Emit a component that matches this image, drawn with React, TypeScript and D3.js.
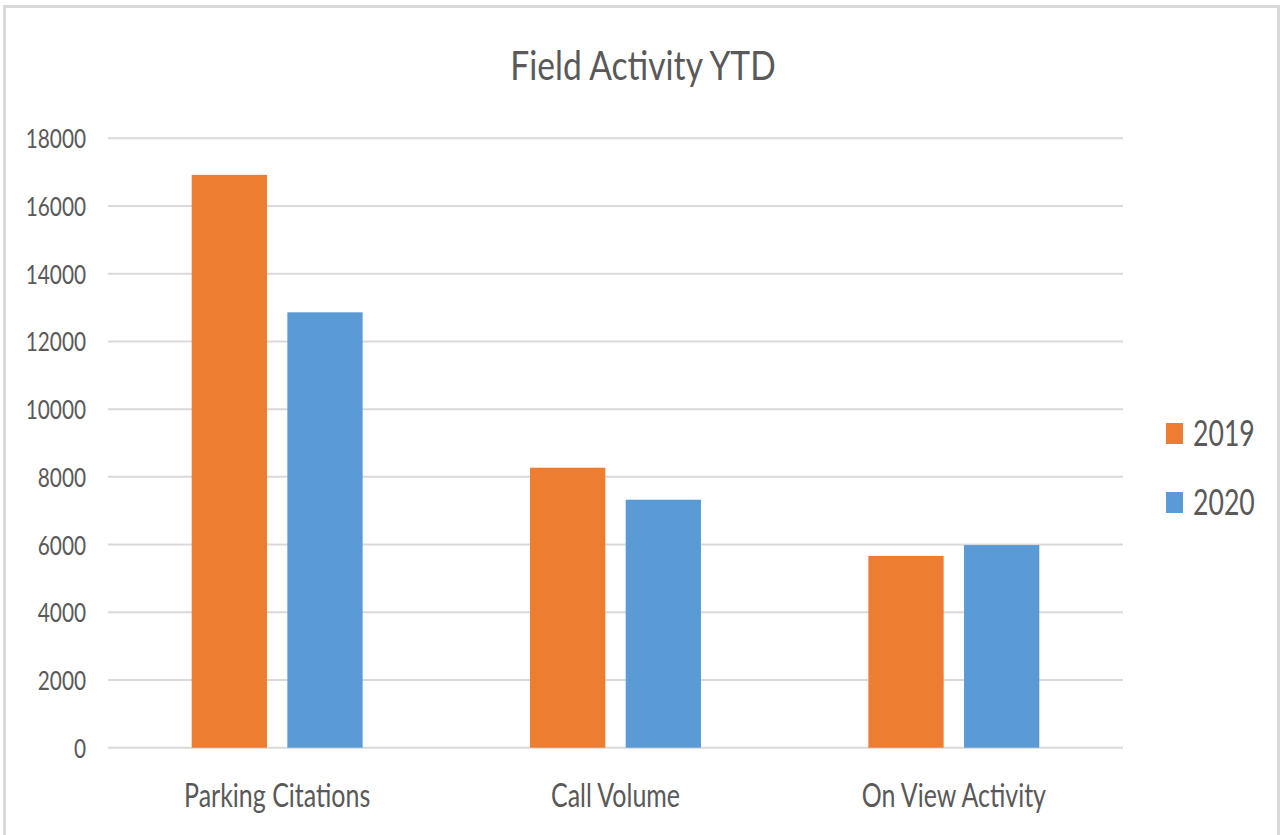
import React from 'react';
import * as d3 from 'd3';

const categories = ['Parking Citations', 'Call Volume', 'On View Activity'];
const seriesNames = ['2019', '2020'];
const values2019 = [16920, 8270, 5665];
const values2020 = [12860, 7325, 5985];
const yTicks = [0, 2000, 4000, 6000, 8000, 10000, 12000, 14000, 16000, 18000];

const colors = ['#ED7D31', '#5B9BD5'];
const textColor = '#595959';
const gridColor = '#d9d9d9';
const font = 'Lato, "Open Sans", sans-serif';
const squeeze = 0.8; // narrow the glyphs a bit, the original font is condensed

const App = () => {
  const width = 1280, height = 835;
  const plot = {left: 108, right: 1123, top: 138.3, bottom: 747.7};

  const x0 = d3.scaleBand()
    .domain(categories)
    .range([plot.left, plot.right])
    .padding(0);
  const x1 = d3.scaleBand()
    .domain(seriesNames)
    .range([0, x0.bandwidth()])
    .paddingInner(0.213)
    .paddingOuter(0.875);
  const y = d3.scaleLinear()
    .domain([0, 18000])
    .range([plot.bottom, plot.top]);

  const series = [values2019, values2020];

  const label = (x, yy, txt, size, anchor, sx = squeeze) => (
    <text
      key={txt + x + yy}
      transform={`translate(${x},${yy}) scale(${sx},1)`}
      fontSize={size}
      fill={textColor}
      fontFamily={font}
      textAnchor={anchor}
    >{txt}</text>
  );

  return (
    <div style={{position: 'absolute', left: 0, top: 0}}>
      <svg width={width} height={height} style={{display: 'block', background: '#fff'}}>
        <rect x={4.5} y={6.5} width={1274} height={840} fill="white" stroke={gridColor} strokeWidth={3} />

        {label(643, 80, 'Field Activity YTD', 40, 'middle', 0.84)}

        {yTicks.map(t => (
          <g key={t}>
            <line x1={plot.left} x2={plot.right} y1={y(t)} y2={y(t)} stroke={gridColor} strokeWidth={2} />
            {label(86, y(t) + 10, String(t), 26, 'end')}
          </g>
        ))}

        {categories.map((c, i) => (
          <g key={c} transform={`translate(${x0(c)},0)`}>
            {seriesNames.map((s, j) => (
              <rect
                key={s}
                x={x1(s)}
                y={y(series[j][i])}
                width={x1.bandwidth()}
                height={y(0) - y(series[j][i])}
                fill={colors[j]}
              />
            ))}
          </g>
        ))}

        {categories.map(c => label(x0(c) + x0.bandwidth() / 2, 806.7, c, 32, 'middle', 0.78))}

        {seriesNames.map((s, j) => (
          <g key={s} transform={`translate(1166,${423 + j * 69})`}>
            <rect x={0} y={0} width={17} height={21} fill={colors[j]} />
            {label(27, 23, s, 36, 'start', 0.74)}
          </g>
        ))}
      </svg>
    </div>
  );
};

export default App;
